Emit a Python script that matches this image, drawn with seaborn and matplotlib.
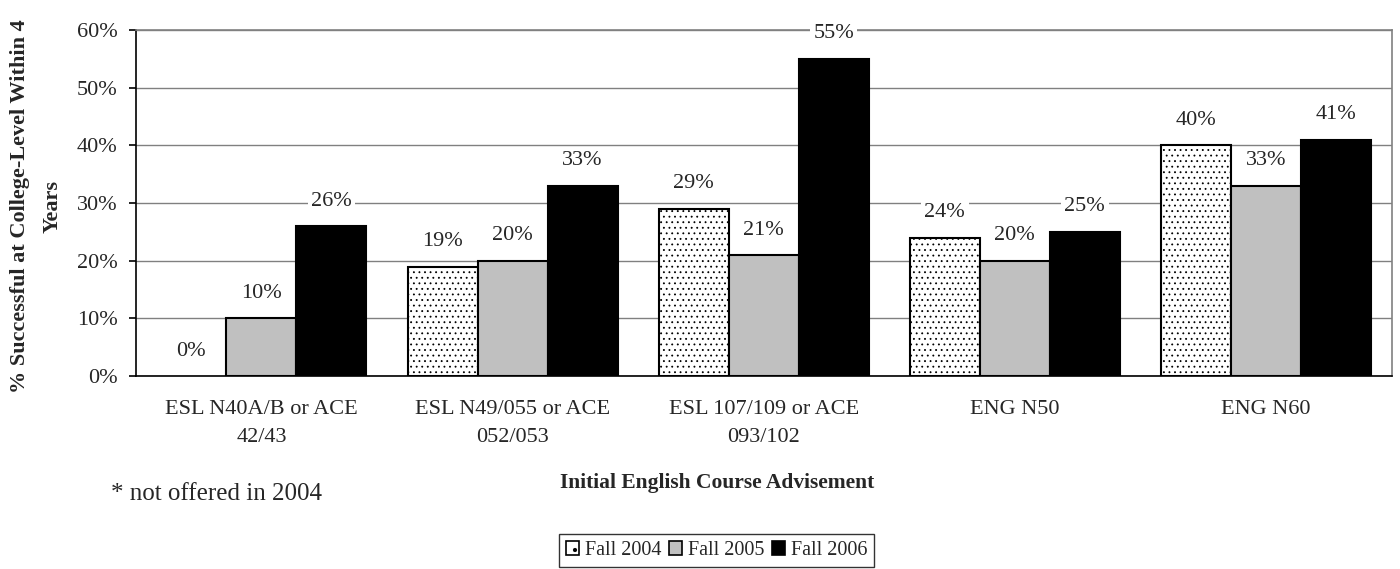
import matplotlib
matplotlib.use("Agg")
import matplotlib.pyplot as plt
import seaborn as sns
import pandas as pd
import numpy as np
from matplotlib.patches import Patch

categories = ["ESL N40A/B or ACE\n42/43", "ESL N49/055 or ACE\n052/053",
              "ESL 107/109 or ACE\n093/102", "ENG N50", "ENG N60"]
series = ["Fall 2004", "Fall 2005", "Fall 2006"]
fall_2004 = [0, 19, 29, 24, 40]
fall_2005 = [10, 20, 21, 20, 33]
fall_2006 = [26, 33, 55, 25, 41]
yticks = [0, 10, 20, 30, 40, 50, 60]

df = pd.DataFrame({
    "cat": categories * 3,
    "series": [series[0]] * 5 + [series[1]] * 5 + [series[2]] * 5,
    "val": fall_2004 + fall_2005 + fall_2006,
})

FS = 16

sns.set_theme(style="white")
plt.rcParams["font.family"] = ["Liberation Serif", "DejaVu Serif"]
plt.rcParams["hatch.linewidth"] = 0.6
plt.rcParams["hatch.color"] = "black"

fig = plt.figure(figsize=(14, 5.69), dpi=100)
ax = fig.add_axes([0.097, 0.339, 0.897, 0.608])

fills = ["white", "#c0c0c0", "black"]
hatches = ["...", "", ""]
sns.barplot(data=df, x="cat", y="val", hue="series", hue_order=series,
            order=categories, palette=fills, width=0.836, ax=ax,
            legend=False, edgecolor="black", linewidth=1.5, saturation=1)

for cont, h, fc in zip(ax.containers, hatches, fills):
    for bar in cont:
        bar.set_facecolor(fc)
        bar.set_edgecolor("black")
        bar.set_hatch(h)
    labels = [f"{v:.0f}%" for v in cont.datavalues]
    for bar, lab in zip(cont, labels):
        x = bar.get_x() + bar.get_width() / 2
        y = bar.get_height()
        ax.annotate(lab, (x, y), xytext=(0, 18), textcoords="offset points",
                    ha="center", va="center", fontsize=FS,
                    bbox=dict(boxstyle="square,pad=0.15", fc="white", ec="none"))

# first group 2004 bar is zero: hide its outline
ax.containers[0][0].set_visible(False)

ax.set_ylim(0, 60)
ax.set_yticks(yticks)
ax.set_yticklabels([f"{t}%" for t in yticks], fontsize=FS)
ax.set_xlim(-0.5, 4.5)
ax.yaxis.grid(True, color="#808080", linewidth=1)
ax.set_axisbelow(True)
for s in ax.spines.values():
    s.set_visible(True)
    s.set_color("black")
    s.set_linewidth(1.2)
ax.spines["right"].set_color("#808080")
ax.spines["top"].set_color("#808080")

ax.set_xticks(np.arange(len(categories)))
ax.set_xticklabels(categories, fontsize=FS, linespacing=1.65)
ax.tick_params(axis="x", which="major", length=0, pad=17)
ax.set_xticks(np.arange(-0.5, len(categories)), minor=True)
ax.tick_params(axis="x", which="minor", length=6, width=1.2, direction="out", color="black")
ax.tick_params(axis="y", length=5, width=1.2, direction="out", color="black",
               left=True, pad=8)

ax.set_xlabel("Initial English Course Advisement", fontsize=15.5, fontweight="bold")
ax.xaxis.set_label_coords(0.463, -0.280)
ax.set_ylabel("% Successful at College-Level Within 4\nYears", fontsize=FS,
              fontweight="bold", linespacing=1.85)
ax.yaxis.set_label_coords(-0.058, 0.49)

fig.text(0.079, 1 - 494 / 569, "* not offered in 2004", fontsize=18,
         ha="left", va="center")

handles = [Patch(facecolor=fc, edgecolor="black", hatch=h, linewidth=1.2)
           for fc, h in zip(fills, [".", "", ""])]
leg = fig.legend(handles, series, loc="center", bbox_to_anchor=(0.512, 0.0325),
                 ncol=3, frameon=True, fontsize=14.5, handlelength=0.65,
                 handleheight=0.65, handletextpad=0.3, columnspacing=0.35,
                 borderpad=0.35, borderaxespad=0.1, fancybox=False, edgecolor="black")
leg.get_frame().set_linewidth(1.0)

fig.savefig("out.png", dpi=100, facecolor="white")
